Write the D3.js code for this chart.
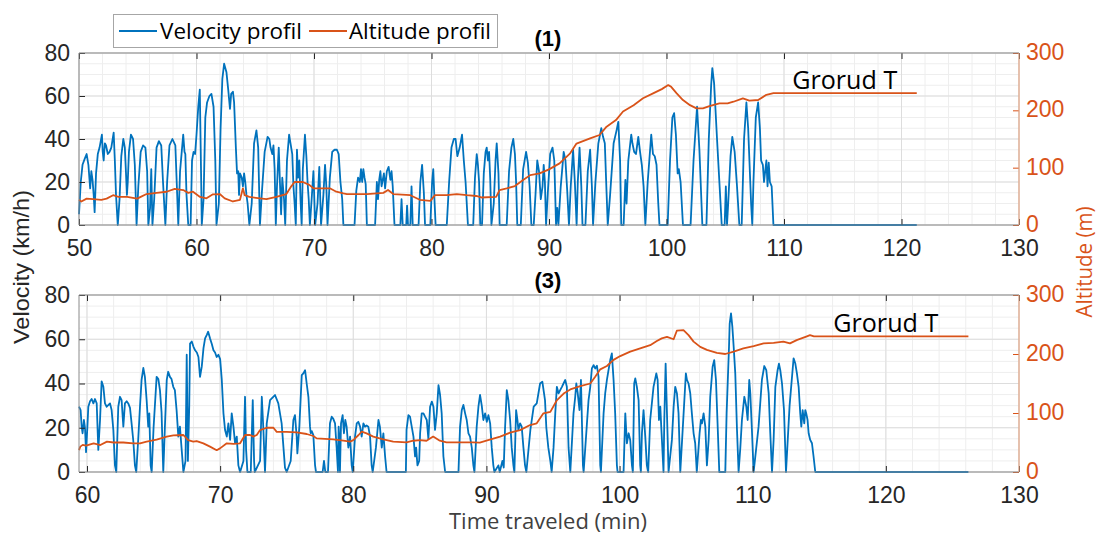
<!DOCTYPE html>
<html>
<head>
<meta charset="utf-8">
<script src="https://cdn.jsdelivr.net/npm/d3@7"></script>
<style>
  body { margin: 0; background: #fff; }
</style>
</head>
<body>
<div id="chart"></div>
<script>
// ---- data: [time (min), value] ----
const velocity1 = [
  [50.0,5],[50.15,20],[50.3,28],[50.5,31],[50.65,33],[50.8,28],[50.95,17],[51.05,25],[51.15,21],[51.25,14],
  [51.33,6],[51.45,24],[51.6,33],[51.75,36],[51.95,42],[52.02,34],[52.1,30],[52.2,38],[52.3,37],[52.45,33],
  [52.6,34],[52.75,36],[52.95,43],[53.05,30],[53.15,14],[53.3,0],[53.45,12],[53.6,32],[53.77,40],[53.9,36],
  [54.0,24],[54.08,14],[54.15,20],[54.25,34],[54.42,42],[54.6,40],[54.75,28],[54.9,0],[55.05,18],[55.25,34],
  [55.45,37],[55.65,36],[55.8,25],[55.9,0],[56.05,8],[56.15,26],[56.25,0],[56.4,12],[56.6,36],[56.8,39],
  [57.0,37],[57.15,20],[57.35,0],[57.5,20],[57.7,37],[57.95,40],[58.2,37],[58.45,0],[58.6,25],[58.87,42],
  [58.98,34],[59.05,33],[59.15,14],[59.3,0],[59.5,0],[59.62,30],[59.75,34],[59.88,33],[60.0,42],[60.15,55],
  [60.28,63],[60.4,20],[60.45,0],[60.6,12],[60.75,50],[60.9,57],[61.1,60],[61.27,61],[61.45,55],[61.6,30],
  [61.7,0],[61.9,10],[62.05,45],[62.2,68],[62.35,75],[62.55,71],[62.7,63],[62.85,54],[62.95,61],[63.1,62],
  [63.2,57],[63.35,36],[63.45,24],[63.55,25],[63.62,14],[63.7,24],[63.85,22],[63.95,18],[64.05,24],[64.15,20],
  [64.25,14],[64.35,10],[64.5,0],[64.7,10],[64.9,38],[65.1,44],[65.25,36],[65.4,0],[65.55,14],[65.8,34],
  [66.05,41],[66.2,40],[66.3,36],[66.45,33],[66.55,37],[66.65,26],[66.75,0],[66.85,18],[67.0,36],[67.1,20],
  [67.2,5],[67.3,22],[67.45,12],[67.55,0],[67.7,30],[67.88,42],[68.0,38],[68.15,33],[68.25,18],[68.35,10],
  [68.45,0],[68.55,35],[68.65,22],[68.75,30],[68.85,12],[68.95,0],[69.05,26],[69.23,42],[69.35,32],[69.45,20],
  [69.55,12],[69.65,0],[69.8,12],[69.95,25],[70.1,0],[70.3,10],[70.45,27],[70.6,0],[70.8,14],[70.94,28],
  [71.05,18],[71.15,0],[71.35,22],[71.55,34],[71.75,35],[71.95,35],[72.1,33],[72.25,20],[72.4,12],[72.5,0],
  [73.45,0],[73.6,16],[73.75,22],[73.9,20],[74.0,26],[74.1,20],[74.2,26],[74.3,22],[74.4,19],[74.5,0],
  [75.2,0],[75.35,20],[75.45,12],[75.55,21],[75.65,25],[75.75,18],[75.85,21],[75.95,24],[76.05,17],[76.2,25],
  [76.35,27],[76.5,21],[76.6,25],[76.7,18],[76.85,0],[77.35,0],[77.45,12],[77.55,0],[77.85,0],[77.92,9],
  [78.0,0],[78.2,0],[78.3,18],[78.4,0],[78.9,0],[79.05,20],[79.2,28],[79.35,15],[79.45,0],[79.9,0],
  [80.05,20],[80.15,26],[80.25,12],[80.35,0],[81.3,0],[81.5,20],[81.7,36],[81.9,40],[82.05,40],[82.2,32],
  [82.4,36],[82.6,42],[82.75,30],[82.9,20],[83.0,10],[83.1,0],[83.55,0],[83.7,22],[83.85,33],[83.95,28],
  [84.05,20],[84.15,0],[84.3,0],[84.45,24],[84.6,34],[84.7,36],[84.8,30],[84.9,34],[85.0,21],[85.1,0],
  [85.3,10],[85.45,30],[85.55,38],[85.7,24],[85.8,0],[86.4,0],[86.6,25],[86.8,36],[86.96,40],[87.1,33],
  [87.2,20],[87.3,0],[87.6,0],[87.8,26],[88.05,34],[88.2,29],[88.35,18],[88.5,0],[88.7,0],[88.85,14],
  [89.0,30],[89.15,25],[89.3,12],[89.45,18],[89.55,28],[89.65,20],[89.75,0],[89.9,15],[90.1,33],[90.3,36],
  [90.45,30],[90.6,0],[90.7,8],[90.8,0],[91.0,18],[91.25,34],[91.4,30],[91.55,16],[91.7,0],[91.85,18],
  [92.05,35],[92.2,20],[92.35,0],[92.45,20],[92.6,36],[92.75,18],[92.85,0],[93.1,0],[93.3,25],[93.5,35],
  [93.65,18],[93.75,0],[93.95,20],[94.2,38],[94.45,45],[94.6,41],[94.75,38],[94.9,15],[95.0,0],[95.2,14],
  [95.5,38],[95.75,44],[95.9,48],[96.05,30],[96.15,0],[96.35,0],[96.5,21],[96.6,10],[96.75,30],[97.0,42],
  [97.1,38],[97.25,34],[97.4,33],[97.6,41],[97.75,34],[97.9,28],[98.05,18],[98.2,0],[98.4,20],[98.7,42],
  [98.85,33],[99.0,32],[99.15,28],[99.3,10],[99.4,0],[100.1,0],[100.3,30],[100.5,50],[100.65,52],[100.8,42],
  [100.95,24],[101.05,26],[101.2,20],[101.4,0],[102.05,0],[102.3,30],[102.6,55],[102.8,35],[103.05,0],[103.4,0],
  [103.6,40],[103.8,65],[103.9,73],[104.05,66],[104.3,40],[104.55,15],[104.7,0],[104.95,0],[105.05,18],[105.15,0],
  [105.25,10],[105.45,32],[105.6,41],[105.8,34],[106.0,18],[106.2,0],[106.4,0],[106.6,40],[106.8,57],[106.95,45],
  [107.2,10],[107.3,0],[107.4,20],[107.6,50],[107.8,57],[107.95,45],[108.05,30],[108.2,28],[108.3,20],[108.4,25],
  [108.5,30],[108.6,18],[108.7,29],[108.8,20],[108.95,18],[109.1,0],[121.3,0]
];

const altitude1 = [
  [50.0,44],[50.2,41],[50.65,46],[51.2,45],[51.9,44],[52.35,46],[52.9,52],[53.35,49],[54.1,49],[54.95,46],
  [55.25,49],[55.75,54],[56.6,56],[57.45,58],[58.15,63],[58.87,61],[59.3,56],[59.7,58],[60.3,49],[60.85,46.5],
  [61.4,53.5],[61.98,54],[62.4,46.5],[63.1,41],[63.7,44],[63.95,64],[64.1,52],[64.5,49],[65.4,46.5],[65.95,45],
  [66.8,49],[67.65,54],[68.05,67],[68.35,75],[69.05,75],[69.6,70],[69.95,64],[71.35,64],[71.9,58],[72.5,55],
  [72.8,54],[74.5,54],[75.9,56],[76.3,61],[76.75,54],[78.2,52],[78.6,48],[79.0,44],[79.9,42],[80.3,52],
  [81.3,52],[82.15,54],[83.0,52],[83.8,50.6],[84.25,48],[85.5,49],[85.8,61],[86.4,64],[87.1,68],[87.8,78.5],
  [88.4,87],[89.2,90],[90.0,97],[90.9,107.5],[91.8,125],[92.34,142],[93.5,151],[94.3,157],[94.9,171.5],[95.7,183],
  [96.3,198],[97.2,209],[98.0,221],[98.9,230],[99.6,237],[100.15,244],[100.4,241],[100.85,230],[101.4,218],[102.0,209],
  [102.55,203.5],[103.1,203.5],[103.65,207.5],[104.5,212],[105.2,212],[105.7,215],[106.5,221],[107.05,217],[107.8,218],[108.5,227],
  [109.1,230],[121.3,230]
];

const velocity3 = [
  [59.4,29.5],[59.52,28],[59.6,20.5],[59.67,17.5],[59.77,23.5],[59.85,20],[59.93,9],[60.03,20.5],[60.1,29.5],[60.23,32],
  [60.35,33],[60.48,31],[60.6,33],[60.73,31],[60.85,10],[60.98,23.5],[61.1,41],[61.23,38.5],[61.35,31],[61.48,29.5],
  [61.73,31],[61.85,28],[61.98,19],[62.1,3],[62.2,0],[62.35,29.5],[62.48,34],[62.6,32.5],[62.73,20.5],[62.85,31],
  [62.98,32],[63.1,31],[63.23,29],[63.35,22],[63.48,14],[63.6,3],[63.7,0],[63.85,15],[63.98,29.5],[64.1,41.6],
  [64.23,47],[64.35,43],[64.48,32.5],[64.6,20.5],[64.68,26.5],[64.78,3],[64.86,0],[65.0,20],[65.23,43],[65.36,42],
  [65.48,37],[65.6,27],[65.73,0],[65.85,20],[65.99,41.6],[66.1,45.3],[66.23,43],[66.35,42],[66.48,38.5],[66.6,37],
  [66.73,28],[66.86,16],[66.98,20.5],[67.1,11],[67.24,0],[67.4,5],[67.49,53],[67.58,5],[67.68,30],[67.74,58],
  [67.87,59],[68.0,56.6],[68.12,55],[68.25,54],[68.37,52],[68.49,43],[68.62,47.6],[68.75,56],[68.87,60.4],[69.0,62],
  [69.1,63.4],[69.24,60.4],[69.37,58],[69.5,55],[69.62,54],[69.74,52],[69.87,53],[70.0,51],[70.12,42],[70.25,26.5],
  [70.37,19],[70.5,16],[70.62,22],[70.75,14.5],[70.87,26.5],[71.0,20.5],[71.12,13],[71.25,16],[71.37,3],[71.5,0],
  [71.75,5],[71.87,34],[71.95,10],[72.05,0],[72.3,0],[72.45,32.5],[72.55,5],[72.6,0],[73.0,5],[73.13,34],
  [73.25,19],[73.37,0],[73.5,22],[73.75,32.5],[74.12,34.8],[74.37,31],[74.62,22],[74.87,2],[75.0,0],[75.3,5],
  [75.5,23.5],[75.62,25.7],[75.75,16],[75.8,8.4],[75.95,20.5],[76.13,43.8],[76.25,44.6],[76.38,46],[76.5,40],[76.63,34],
  [76.75,20.5],[76.8,17.5],[76.88,18.5],[77.0,16.7],[77.13,3],[77.2,0],[77.7,0],[77.8,5],[77.9,0],[78.1,0],
  [78.25,22],[78.38,25],[78.5,24],[78.63,22],[78.75,11],[78.85,0],[78.9,20.5],[78.96,14],[79.0,0],[79.08,22],
  [79.2,25.7],[79.3,17.5],[79.4,23.5],[79.5,20.5],[79.63,11],[79.76,16],[79.88,3],[79.96,0],[80.13,16],[80.26,22],
  [80.38,22.7],[80.51,20.5],[80.63,16],[80.76,22],[80.88,20.5],[81.0,21],[81.13,20.5],[81.26,16],[81.38,3],[81.46,0],
  [81.7,11],[81.89,23.5],[82.0,20.5],[82.14,11],[82.26,17.5],[82.39,7],[82.5,0],[83.95,0],[84.0,19],[84.14,25.7],
  [84.26,25],[84.39,20.5],[84.52,16],[84.64,7],[84.72,11],[84.82,3],[84.95,5],[85.02,17.5],[85.14,26.5],[85.27,26.5],
  [85.39,25],[85.52,23.5],[85.64,15],[85.77,29.5],[85.9,31.8],[86.02,29.5],[86.14,19],[86.27,26.5],[86.4,39.3],[86.52,34.8],
  [86.64,26.5],[86.77,7],[86.9,0],[87.9,0],[88.02,20.5],[88.15,28],[88.27,30.3],[88.4,26.5],[88.52,23.5],[88.65,17.5],
  [88.77,16],[88.9,11],[89.02,3],[89.1,0],[89.27,20.5],[89.4,29.5],[89.52,34.8],[89.65,30],[89.77,23.5],[89.9,26.5],
  [90.03,22.7],[90.15,25.7],[90.28,22],[90.4,11],[90.52,3],[90.6,0],[90.9,3],[91.0,0],[91.2,5],[91.3,2],
  [91.4,20],[91.53,37],[91.65,32.5],[91.78,23.5],[91.9,11],[92.03,3],[92.1,0],[92.23,28],[92.33,23.5],[92.4,19],
  [92.53,22],[92.65,20.5],[92.78,11],[92.9,3],[93.0,0],[93.3,19],[93.55,29.5],[93.78,31],[94.03,40],[94.2,40.8],
  [94.4,32.5],[94.5,20],[94.65,11],[94.8,5],[94.9,0],[95.04,11],[95.17,26.5],[95.29,38.5],[95.42,35.5],[95.54,37],
  [95.67,38.5],[95.79,40],[95.92,41.6],[96.04,38.5],[96.17,11],[96.3,0],[96.54,26.5],[96.67,34],[96.75,40],[96.85,36],
  [96.99,28],[97.1,41.6],[97.25,3],[97.3,0],[97.55,22],[97.67,32.5],[97.8,38.5],[97.92,46.8],[98.05,48.3],[98.17,46.8],
  [98.3,48],[98.42,43],[98.55,3],[98.6,0],[98.8,26.5],[98.92,35.5],[99.05,41.6],[99.17,46],[99.3,50.6],[99.42,53.6],
  [99.55,41.6],[99.67,26.5],[99.8,3],[99.85,0],[100.3,0],[100.43,26.5],[100.55,13],[100.68,17.5],[100.8,14.5],[100.93,3],
  [101.0,0],[101.1,40],[101.18,42.3],[101.3,38.5],[101.43,32.5],[101.55,3],[101.6,0],[101.68,17.5],[101.8,28],[101.93,16],
  [102.05,3],[102.15,0],[102.3,23.5],[102.55,38.5],[102.76,44.6],[102.86,41.6],[102.96,23.5],[103.06,29.5],[103.13,20.5],[103.21,11],
  [103.3,0],[103.36,23.5],[103.46,49],[103.56,26.5],[103.68,0],[103.93,14.5],[104.06,29.5],[104.18,38.5],[104.31,35.5],[104.43,26.5],
  [104.56,0],[104.81,26.5],[104.98,44.6],[105.06,41.6],[105.18,40],[105.31,35.5],[105.43,26.5],[105.56,17.5],[105.68,13],[105.8,0],
  [106.01,17.5],[106.11,23.5],[106.19,22],[106.31,26.5],[106.44,20.5],[106.56,3],[106.69,14.5],[106.81,34],[106.99,47.6],[107.11,50.6],
  [107.24,41.6],[107.36,22],[107.49,0],[107.94,0],[108.04,26.5],[108.22,56.6],[108.27,67],[108.37,71.7],[108.47,65.7],[108.57,56.6],
  [108.69,44.6],[108.82,19],[108.94,0],[109.07,11],[109.19,23.5],[109.37,34],[109.52,29.5],[109.62,23.5],[109.74,41.6],[109.82,35.5],
  [109.94,19],[110.07,0],[110.44,20.5],[110.69,41.6],[110.87,47.9],[111.02,46],[111.2,35.5],[111.32,17.5],[111.45,0],[111.57,14.5],
  [111.7,38.5],[111.87,46],[111.97,49],[112.07,46],[112.2,40],[112.35,28],[112.5,0],[112.77,30],[113.07,51.4],[113.2,49],
  [113.32,44.6],[113.45,38.5],[113.57,26.5],[113.65,20.5],[113.75,28],[113.87,22],[113.95,28],[114.02,26.5],[114.12,23.5],[114.2,17.5],
  [114.32,14.5],[114.45,13],[114.57,7],[114.7,0],[126.2,0]
];

const altitude3 = [
  [59.4,37],[59.5,43],[59.68,46],[59.93,44.6],[60.5,48.6],[61.0,45.7],[61.5,51.4],[62.0,50],[62.73,50],[63.48,48.6],
  [63.98,48.6],[64.48,51.4],[65.23,55],[65.99,60],[66.49,62],[67.24,62.7],[67.6,54],[67.98,51.4],[68.24,52.5],[68.74,48.6],
  [69.24,43],[69.74,37],[69.99,40],[70.5,48.6],[71.0,47.5],[71.5,48.6],[71.87,62.7],[72.25,62.7],[72.5,60],[72.75,62.7],
  [73.0,71],[73.5,75],[74.0,75],[74.25,68],[75.0,68],[75.75,67],[76.5,64.4],[77.0,61],[77.25,57],[78.5,55.3],
  [79.25,53],[79.76,51.4],[80.0,54],[80.4,62.7],[80.63,68.3],[81.0,65.5],[81.5,60],[82.26,55.3],[83.0,51.4],[84.0,50.3],
  [84.5,53],[85.0,54],[85.5,53],[86.0,60],[86.5,53],[87.0,50.3],[89.0,50.3],[89.5,49.7],[90.0,53],[91.03,60],
  [91.78,66.6],[92.53,71],[93.28,79.6],[93.78,82.5],[94.28,99.4],[94.8,102],[95.3,122],[95.8,133],[96.3,140],[97.05,145.7],
  [97.8,150],[98.17,161.5],[98.55,174],[99.05,179.6],[99.55,190],[100.05,196.5],[100.8,204],[101.55,209.5],[102.3,215],[102.8,222],
  [103.17,226.5],[103.56,229],[104.06,225],[104.3,239.5],[104.8,240.6],[105.18,232],[105.56,221],[106.06,212],[106.56,207],[107.31,202],
  [107.94,200],[108.57,204],[109.3,209.5],[110.07,213.5],[110.82,218],[111.57,219],[112.3,221],[112.8,218],[113.3,223.6],[114.07,230],
  [114.3,232],[114.6,230],[126.2,230]
];

const velocityTicks = [0, 20, 40, 60, 80];
const altitudeTicks = [0, 100, 200, 300];
const seriesNames = ["Velocity profil", "Altitude profil"];
const panelTitles = ["(1)", "(3)"];
const noteText = "Grorud T";

// ---- layout ----
const width = 1098, height = 536;
const left = 79, right = 1019;
const blue = "#0072BD", orange = "#D95319";
const tickFont = '"Liberation Sans", Arial, sans-serif';
const textFont = '"Open Sans", "Noto Sans", sans-serif';

const panels = [
  { title: panelTitles[0], xDomain: [50, 130], xTicks: d3.range(50, 131, 10), minor: d3.range(50, 131, 2),
    top: 53, bottom: 225, velocity: velocity1, altitude: altitude1, noteTime: 110.7, titleY: 46 },
  { title: panelTitles[1], xDomain: [59.4, 130], xTicks: d3.range(60, 131, 10), minor: d3.range(60, 131, 2),
    top: 295, bottom: 472, velocity: velocity3, altitude: altitude3, noteTime: 116.05, titleY: 288 }
];

const svg = d3.select("#chart").append("svg")
  .attr("width", width)
  .attr("height", height)
  .style("background", "#fff");

panels.forEach(p => {
  const x = d3.scaleLinear().domain(p.xDomain).range([left, right]);
  const y = d3.scaleLinear().domain([0, 80]).range([p.bottom, p.top]);
  const y2 = d3.scaleLinear().domain([0, 300]).range([p.bottom, p.top]);

  const g = svg.append("g");

  // minor grid
  const grid = g.append("g");
  grid.selectAll(".vminor").data(p.minor).join("line")
    .attr("x1", d => x(d)).attr("x2", d => x(d))
    .attr("y1", p.top).attr("y2", p.bottom)
    .attr("stroke", "#eeeeee").attr("stroke-width", 1);
  grid.selectAll(".hminor").data(d3.range(0, 81, 5)).join("line")
    .attr("x1", left).attr("x2", right)
    .attr("y1", d => y(d)).attr("y2", d => y(d))
    .attr("stroke", "#eeeeee").attr("stroke-width", 1);
  // major grid
  grid.selectAll(".vmajor").data(p.xTicks).join("line")
    .attr("x1", d => x(d)).attr("x2", d => x(d))
    .attr("y1", p.top).attr("y2", p.bottom)
    .attr("stroke", "#dddddd").attr("stroke-width", 1);
  grid.selectAll(".hmajor").data(velocityTicks).join("line")
    .attr("x1", left).attr("x2", right)
    .attr("y1", d => y(d)).attr("y2", d => y(d))
    .attr("stroke", "#dddddd").attr("stroke-width", 1);

  // velocity then altitude (right axis drawn on top)
  g.append("path")
    .datum(p.velocity)
    .attr("fill", "none")
    .attr("stroke", blue)
    .attr("stroke-width", 1.8)
    .attr("stroke-linejoin", "round")
    .attr("d", d3.line().x(d => x(d[0])).y(d => y(d[1])));
  g.append("path")
    .datum(p.altitude)
    .attr("fill", "none")
    .attr("stroke", orange)
    .attr("stroke-width", 1.8)
    .attr("stroke-linejoin", "round")
    .attr("d", d3.line().x(d => x(d[0])).y(d => y2(d[1])));

  // axes
  const styleAxis = (sel, color) => {
    sel.select(".domain").remove();
    sel.selectAll(".tick line").attr("stroke", color);
    sel.selectAll(".tick text")
      .attr("fill", color)
      .style("font-family", tickFont)
      .style("font-size", "23px");
  };

  g.append("g")
    .attr("transform", `translate(0,${p.bottom})`)
    .call(d3.axisBottom(x).tickValues(p.xTicks).tickFormat(d3.format("d")).tickSizeInner(-6).tickSizeOuter(0).tickPadding(15))
    .call(s => styleAxis(s, "#262626"));
  g.append("g")
    .attr("transform", `translate(0,${p.top})`)
    .call(d3.axisTop(x).tickValues(p.xTicks).tickFormat("").tickSizeInner(-6).tickSizeOuter(0))
    .call(s => styleAxis(s, "#262626"));
  g.append("g")
    .attr("transform", `translate(${left},0)`)
    .call(d3.axisLeft(y).tickValues(velocityTicks).tickSizeInner(-6).tickSizeOuter(0).tickPadding(9))
    .call(s => styleAxis(s, "#262626"));
  g.append("g")
    .attr("transform", `translate(${right},0)`)
    .call(d3.axisRight(y2).tickValues(altitudeTicks).tickSizeInner(-6).tickSizeOuter(0).tickPadding(7))
    .call(s => styleAxis(s, orange))
    .call(s => s.selectAll(".tick text").attr("dy", "0.28em"));

  // box
  g.append("path")
    .attr("d", `M${right},${p.top}H${left}V${p.bottom}H${right}`)
    .attr("fill", "none").attr("stroke", "#8a8a8a").attr("stroke-width", 1);
  g.append("line")
    .attr("x1", right).attr("x2", right).attr("y1", p.top).attr("y2", p.bottom)
    .attr("stroke", "#e2a585").attr("stroke-width", 1.2);

  // panel title
  g.append("text")
    .attr("x", 548).attr("y", p.titleY)
    .attr("text-anchor", "middle")
    .style("font-family", tickFont)
    .style("font-weight", "bold")
    .style("font-size", "22px")
    .attr("fill", "#000")
    .text(p.title);

  // annotation
  g.append("text")
    .attr("x", x(p.noteTime))
    .attr("y", y2(230) - 4)
    .style("font-family", textFont)
    .style("font-size", "25px")
    .attr("textLength", 105)
    .attr("lengthAdjust", "spacingAndGlyphs")
    .attr("fill", "#000")
    .text(noteText);
});

// axis labels
svg.append("text")
  .attr("transform", "translate(29,267) rotate(-90)")
  .attr("text-anchor", "middle")
  .style("font-family", tickFont)
  .style("font-size", "22px")
  .attr("textLength", 154)
  .attr("lengthAdjust", "spacingAndGlyphs")
  .attr("fill", "#262626")
  .text("Velocity (km/h)");

svg.append("text")
  .attr("transform", "translate(1092,262) rotate(-90)")
  .attr("text-anchor", "middle")
  .style("font-family", textFont)
  .style("font-size", "21px")
  .attr("textLength", 111)
  .attr("lengthAdjust", "spacingAndGlyphs")
  .attr("fill", orange)
  .text("Altitude (m)");

svg.append("text")
  .attr("x", 548).attr("y", 529)
  .attr("text-anchor", "middle")
  .style("font-family", textFont)
  .style("font-size", "21px")
  .attr("textLength", 198)
  .attr("lengthAdjust", "spacingAndGlyphs")
  .attr("fill", "#404040")
  .text("Time traveled (min)");

// legend
const legend = svg.append("g");
legend.append("rect")
  .attr("x", 113.5).attr("y", 14.5).attr("width", 384).attr("height", 33)
  .attr("fill", "#fff").attr("stroke", "#a6a6a6").attr("stroke-width", 1);
const items = [
  { name: seriesNames[0], color: blue, x0: 119, tx: 160 },
  { name: seriesNames[1], color: orange, x0: 309, tx: 349 }
];
items.forEach(it => {
  legend.append("line")
    .attr("x1", it.x0).attr("x2", it.x0 + 38)
    .attr("y1", 31).attr("y2", 31)
    .attr("stroke", it.color).attr("stroke-width", 2);
  legend.append("text")
    .attr("x", it.tx).attr("y", 38.5)
    .style("font-family", textFont)
    .style("font-size", "21px")
    .attr("textLength", 142)
    .attr("lengthAdjust", "spacingAndGlyphs")
    .attr("fill", "#000")
    .text(it.name);
});
</script>
</body>
</html>
